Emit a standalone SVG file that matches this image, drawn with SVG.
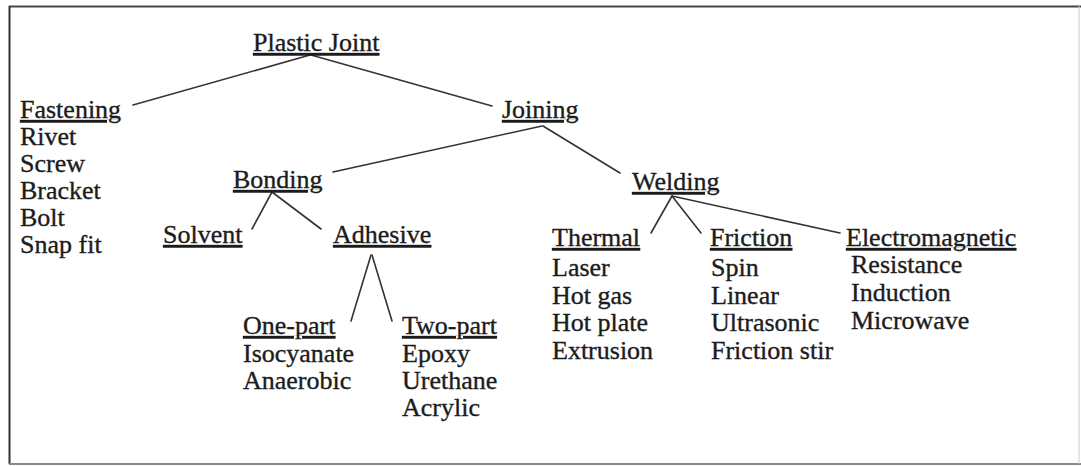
<svg xmlns="http://www.w3.org/2000/svg" width="1081" height="466" viewBox="0 0 1081 466">
<style>
text{font-family:"Liberation Serif","Times New Roman",serif;font-size:26px;fill:#1c1c1c;stroke:#1c1c1c;stroke-width:0.35}
.h{text-decoration:underline}
.c line{stroke:#333;stroke-width:1.6;stroke-linecap:round}
</style>
<rect width="1081" height="466" fill="#fff"/>
<g id="frame" fill="none">
<line x1="9" y1="6.5" x2="1081" y2="6.5" stroke="#444" stroke-width="2"/>
<line x1="9.5" y1="6" x2="9.5" y2="464" stroke="#333" stroke-width="2"/>
<line x1="9" y1="464" x2="1081" y2="464" stroke="#888" stroke-width="2"/>
<line x1="1079" y1="6" x2="1079" y2="464" stroke="#ccc" stroke-width="1"/>
</g>
<g class="c" id="connectors">
<line x1="310" y1="55" x2="133" y2="105"/>
<line x1="311" y1="55" x2="492" y2="106"/>
<line x1="542" y1="126" x2="333" y2="172"/>
<line x1="543" y1="126" x2="620" y2="173"/>
<line x1="272" y1="192" x2="252" y2="229"/>
<line x1="272" y1="192" x2="321" y2="229"/>
<line x1="371" y1="255" x2="351" y2="321"/>
<line x1="372" y1="255" x2="392" y2="321"/>
<line x1="672" y1="196" x2="651" y2="233"/>
<line x1="672" y1="196" x2="701" y2="233"/>
<line x1="672" y1="196" x2="840" y2="233"/>
</g>
<g id="plastic-joint"><text class="h" x="253" y="51">Plastic Joint</text></g>
<g id="fastening">
<text class="h" x="20" y="118">Fastening</text>
<text x="20" y="145">Rivet</text>
<text x="20" y="172">Screw</text>
<text x="20" y="199">Bracket</text>
<text x="20" y="226">Bolt</text>
<text x="20" y="253">Snap fit</text>
</g>
<g id="joining"><text class="h" x="502" y="118">Joining</text></g>
<g id="bonding"><text class="h" x="233" y="188">Bonding</text></g>
<g id="welding"><text class="h" x="632" y="190">Welding</text></g>
<g id="solvent"><text class="h" x="163" y="243">Solvent</text></g>
<g id="adhesive"><text class="h" x="333" y="243">Adhesive</text></g>
<g id="one-part">
<text class="h" x="243" y="334">One-part</text>
<text x="243" y="362">Isocyanate</text>
<text x="243" y="389">Anaerobic</text>
</g>
<g id="two-part">
<text class="h" x="402" y="334">Two-part</text>
<text x="402" y="362">Epoxy</text>
<text x="402" y="389">Urethane</text>
<text x="402" y="416">Acrylic</text>
</g>
<g id="thermal">
<text class="h" x="552" y="246">Thermal</text>
<text x="552" y="276">Laser</text>
<text x="552" y="304">Hot gas</text>
<text x="552" y="331">Hot plate</text>
<text x="552" y="359">Extrusion</text>
</g>
<g id="friction">
<text class="h" x="710" y="246">Friction</text>
<text x="711" y="276">Spin</text>
<text x="711" y="304">Linear</text>
<text x="711" y="331">Ultrasonic</text>
<text x="711" y="359">Friction stir</text>
</g>
<g id="electromagnetic">
<text class="h" x="846" y="246">Electromagnetic</text>
<text x="851" y="273">Resistance</text>
<text x="851" y="301">Induction</text>
<text x="851" y="329">Microwave</text>
</g>
</svg>
